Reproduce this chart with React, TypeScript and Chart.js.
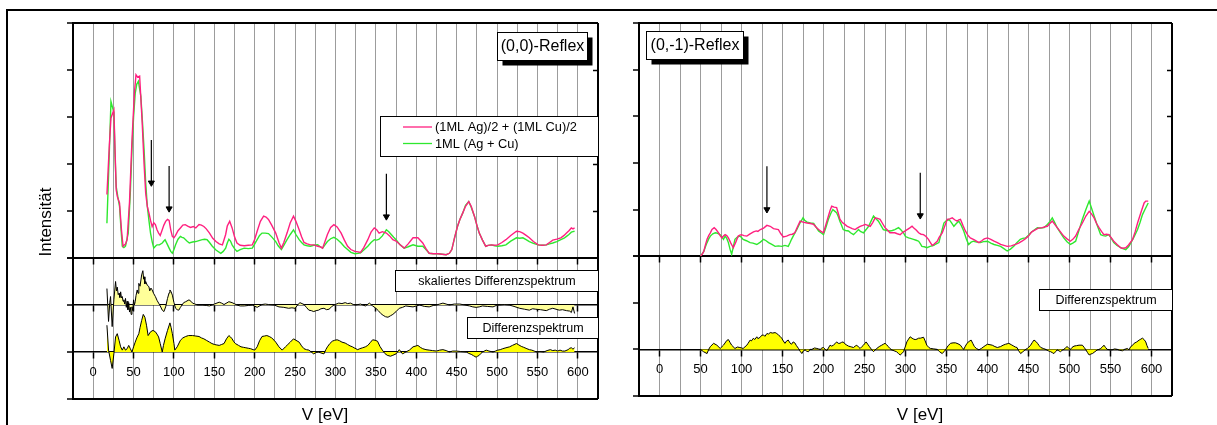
import React, { useEffect, useRef } from 'react';
import { Chart, registerables } from 'chart.js';

Chart.register(...registerables);

const FONT = "'Liberation Sans', Arial, Helvetica, sans-serif";
const PINK = '#ff1f7f';
const GREEN = '#2ee82e';
const PALE_YELLOW = '#ffff99';
const YELLOW = '#ffff00';
const GRID_GRAY = '#9c9c9c';

type Pt = [number, number];

// Energy axis (eV)
const X_MIN = -25;
const X_MAX = 625;
const X_LABEL_STEP = 50;
const X_GRID_STEP = 25;

// (0,0)-Reflex: [energy eV, intensity]
const sum00: Pt[] = [
  [17, 1.35], [20, 2.4], [22, 2.98], [25.6, 3.15], [28.5, 1.45], [30, 1.3], [32.6, 1.17], [35, 0.6], [37, 0.25],
  [40, 0.3], [42, 0.39], [45, 1.2], [48, 2.5], [51, 3.5], [53, 3.9], [55, 3.85], [57.5, 3.87], [59, 3.4],
  [60.7, 2.87], [63, 2.0], [65, 1.38], [67, 1.1], [69, 0.96], [71, 0.8], [73, 0.67], [75, 0.75], [77, 0.71],
  [79, 0.6], [81, 0.53], [83, 0.48], [85.5, 0.6], [87.5, 0.7], [89.7, 0.78], [92, 0.82], [94, 0.8], [96, 0.6],
  [98, 0.46], [100, 0.43], [102, 0.48], [105, 0.58], [108, 0.64], [111, 0.7], [114, 0.71], [117, 0.68],
  [120.5, 0.65], [124, 0.67], [127, 0.64], [131, 0.71], [134, 0.7], [137, 0.67], [140, 0.62], [144, 0.53],
  [148, 0.42], [152, 0.35], [156, 0.3], [160, 0.28], [164, 0.5], [166, 0.68], [169, 0.78], [172, 0.64],
  [175, 0.45], [178, 0.32], [182, 0.27], [187, 0.26], [192, 0.27], [197, 0.28], [200, 0.4], [203, 0.57],
  [207, 0.78], [211, 0.89], [214, 0.87], [217, 0.82], [221, 0.7], [226, 0.53], [230, 0.33], [233, 0.21],
  [236, 0.33], [240, 0.53], [244, 0.75], [248, 0.89], [251, 0.78], [255, 0.6], [258, 0.45], [261, 0.33],
  [265, 0.3], [269, 0.28], [273, 0.28], [278, 0.25], [281, 0.24], [284, 0.21], [287, 0.35], [290, 0.5],
  [294, 0.65], [298, 0.71], [302, 0.66], [307, 0.53], [311, 0.38], [315, 0.25], [319, 0.18], [324, 0.14],
  [328, 0.13], [331, 0.12], [335, 0.22], [340, 0.39], [344, 0.55], [348, 0.64], [351, 0.6], [354, 0.53],
  [358, 0.56], [363, 0.53], [367, 0.47], [371, 0.39], [375, 0.36], [380, 0.28], [385, 0.21], [390, 0.3],
  [396, 0.43], [402, 0.43], [408, 0.32], [412, 0.2], [416, 0.1], [421, 0.09], [427, 0.09], [432, 0.08],
  [437, 0.07], [441, 0.1], [444, 0.18], [447, 0.4], [451, 0.67], [454, 0.82], [457.6, 0.96], [461, 1.1],
  [465, 1.2], [468, 1.1], [472, 0.89], [475, 0.7], [478, 0.53], [482, 0.38], [486, 0.25], [489, 0.27],
  [493, 0.28], [497, 0.27], [501, 0.28], [506, 0.33], [511, 0.39], [517, 0.48], [524, 0.57], [528, 0.56],
  [532, 0.53], [536, 0.48], [540, 0.43], [545, 0.35], [551, 0.28], [556, 0.27], [561, 0.28], [565, 0.33],
  [569, 0.38], [574, 0.4], [579, 0.43], [583, 0.48], [586, 0.53], [589, 0.58], [592, 0.64], [594, 0.62], [596, 0.64],
];

const mixed00: Pt[] = [
  [17, 0.74], [19.5, 2.0], [22, 3.33], [24, 3.2], [25.6, 3.1], [27, 2.2], [28.5, 1.52], [30.5, 1.3],
  [32.6, 1.1], [34.5, 0.6], [36, 0.25], [38, 0.22], [40, 0.25], [43.4, 0.53], [46, 1.4], [48, 2.3], [50, 3.0],
  [52, 3.5], [54, 3.7], [56, 3.76], [59, 3.44], [61, 2.9], [63, 2.3], [65, 1.6], [67, 1.1], [69, 0.8], [71, 0.53],
  [73, 0.35], [75, 0.21], [77, 0.25], [79, 0.28], [82, 0.28], [85.5, 0.32], [87.5, 0.36], [89, 0.39],
  [91.5, 0.3], [94, 0.21], [96, 0.14], [98, 0.1], [100, 0.18], [102, 0.28], [105, 0.4], [108, 0.46],
  [110, 0.44], [112, 0.43], [116, 0.36], [119, 0.32], [123, 0.34], [127, 0.35], [131, 0.37], [135, 0.39],
  [138, 0.4], [141, 0.39], [144, 0.33], [147.5, 0.25], [152, 0.17], [158, 0.1], [161, 0.14], [164, 0.21],
  [166, 0.32], [168, 0.4], [170, 0.36], [172, 0.28], [175, 0.2], [178, 0.14], [182, 0.18], [187, 0.21],
  [192, 0.2], [197, 0.21], [200, 0.3], [203, 0.39], [206, 0.48], [209, 0.53], [213, 0.53], [217, 0.52],
  [221, 0.45], [226, 0.35], [229, 0.26], [233, 0.18], [236, 0.27], [240, 0.39], [244, 0.5], [248, 0.6],
  [251, 0.5], [255, 0.39], [258, 0.33], [261, 0.28], [265, 0.26], [269, 0.25], [273, 0.27], [278, 0.28],
  [281, 0.24], [284, 0.21], [287, 0.28], [290, 0.35], [294, 0.41], [298, 0.44], [302, 0.4], [307, 0.32],
  [311, 0.24], [315, 0.18], [319, 0.12], [324, 0.09], [328, 0.1], [331, 0.11], [335, 0.17], [340, 0.25],
  [344, 0.33], [348, 0.39], [351, 0.38], [354, 0.4], [358, 0.47], [363, 0.6], [366, 0.56], [369, 0.5],
  [372, 0.44], [375, 0.39], [380, 0.28], [385, 0.21], [390, 0.24], [396, 0.28], [402, 0.25], [408, 0.25],
  [412, 0.18], [416, 0.1], [421, 0.09], [427, 0.09], [432, 0.08], [437, 0.07], [441, 0.1], [444, 0.18],
  [447, 0.4], [451, 0.67], [454, 0.82], [457.6, 0.96], [461, 1.12], [465, 1.2], [468, 1.08], [472, 0.89],
  [475, 0.7], [478, 0.53], [482, 0.38], [486, 0.25], [489, 0.27], [493, 0.28], [497, 0.26], [501, 0.25],
  [506, 0.26], [511, 0.28], [517, 0.36], [524, 0.43], [528, 0.42], [532, 0.43], [536, 0.39], [540, 0.35],
  [545, 0.31], [551, 0.28], [556, 0.27], [561, 0.28], [565, 0.3], [569, 0.32], [574, 0.35], [579, 0.39],
  [583, 0.42], [586, 0.46], [589, 0.5], [592, 0.55], [594, 0.56], [596, 0.57],
];

const scaledDiff00: Pt[] = [
  [17, 0.35], [19, -0.35], [20.5, 0.05], [21.5, 0.18], [23.5, -0.46], [25.6, 0.11], [27.7, 0.5], [28.8, 0.3],
  [29.8, 0.38], [31, 0.22], [32, 0.25], [33, 0.16], [34, 0.28], [35, 0.15], [36, 0.18], [37, 0.08], [38, 0.11],
  [39, 0.02], [40, 0.14], [41, -0.05], [42, 0.08], [43, -0.1], [44, 0.05], [45, -0.15], [46, -0.05],
  [47, -0.2], [48, -0.04], [49, -0.12], [50, 0.11], [51, 0.0], [52, 0.07], [53, 0.2], [54.5, 0.32],
  [55.5, 0.25], [56.5, 0.46], [58, 0.4], [60, 0.64], [61.5, 0.73], [62.5, 0.55], [63, 0.6], [64, 0.45],
  [65, 0.5], [67, 0.42], [69, 0.39], [70, 0.3], [71.5, 0.36], [73, 0.32], [75, 0.24], [77, 0.18],
  [79, 0.1], [81, 0.04], [83, -0.02], [85.5, -0.11], [87.6, -0.14], [89.7, -0.04], [92, 0.14], [94, 0.26],
  [95, 0.32], [96.5, 0.28], [98, 0.21], [100, 0.05], [102, -0.07], [104, -0.1], [106, -0.11], [108, -0.05],
  [110, 0.0], [112, 0.05], [114.5, 0.07], [118.6, 0.11], [121, 0.08], [123, 0.04], [126, 0.02], [129, 0.0],
  [135, 0.0], [140, -0.01], [144, -0.02], [150, 0.02], [156, 0.06], [159, 0.04], [162, 0.01], [168, 0.07],
  [172, 0.05], [178, 0.0], [182, -0.02], [187, -0.02], [192, -0.01], [197, 0.0], [203, -0.05], [209, 0.01],
  [213, 0.02], [217, 0.01], [224, 0.0], [230, -0.04], [236, -0.05], [242, -0.07], [246, -0.06], [250, -0.07],
  [253, 0.0], [256, 0.05], [261, 0.01], [264, -0.05], [267, -0.11], [270, -0.12], [273, -0.14], [276, -0.12],
  [279, -0.11], [282, -0.08], [285.7, -0.07], [289, -0.1], [292, -0.09], [295, -0.04], [298, 0.0],
  [304, 0.04], [308, 0.03], [312, 0.05], [315, 0.03], [318.6, 0.04], [322, 0.01], [325, 0.0], [331, 0.02],
  [337, -0.02], [342, 0.04], [346, -0.02], [350, -0.07], [353, -0.12], [356, -0.18], [359, -0.22],
  [362, -0.25], [365, -0.26], [368, -0.23], [371, -0.2], [375, -0.14], [379, -0.07], [383, -0.05],
  [387, -0.02], [391, -0.03], [396, -0.04], [400, -0.02], [404, 0.0], [410, -0.03], [416, -0.04],
  [421, -0.01], [425, 0.0], [429, 0.02], [433, 0.04], [437, 0.02], [441, 0.0], [447, 0.02], [454, 0.02],
  [460, 0.0], [466, -0.02], [470, -0.04], [474, -0.05], [478, -0.04], [482, -0.02], [488, -0.03],
  [495, -0.04], [499, -0.01], [503, 0.0], [509, 0.01], [515, 0.0], [521, -0.03], [528, -0.07], [534, -0.09],
  [540, -0.11], [544, -0.08], [548, -0.09], [554, -0.1], [561, -0.12], [565, -0.09], [569, -0.07],
  [573, -0.09], [577, -0.11], [581, -0.1], [586, -0.12], [590, -0.13], [592, -0.16], [594, -0.04], [596, -0.18],
];

const diff00: Pt[] = [
  [17, 0.57], [19, 0.04], [21.5, -0.18], [23.5, -0.35], [25.6, -0.04], [27.7, 0.32], [29.8, 0.39],
  [32, 0.25], [34, 0.11], [36, 0.04], [38, 0.11], [40, 0.04], [42, 0.07], [44, 0.14], [46, 0.07], [48, 0.0],
  [50, 0.11], [52, 0.21], [54, 0.3], [56.5, 0.39], [58, 0.52], [60, 0.67], [62, 0.8], [64, 0.74], [66, 0.57],
  [68, 0.35], [71, 0.43], [74, 0.46], [77, 0.43], [79, 0.38], [81, 0.32], [83, 0.18], [85.5, 0.0], [87, 0.14],
  [89, 0.28], [92, 0.46], [95, 0.62], [96.5, 0.52], [98, 0.39], [100, 0.18], [101, 0.04], [104, 0.11],
  [108, 0.25], [111, 0.3], [114.5, 0.33], [118, 0.35], [123, 0.35], [127, 0.34], [131, 0.33], [134, 0.3],
  [137, 0.28], [140, 0.25], [144, 0.21], [147, 0.18], [150, 0.16], [153, 0.15], [156, 0.14], [159, 0.16],
  [162, 0.18], [165, 0.28], [168, 0.35], [170, 0.32], [172, 0.28], [174, 0.22], [176, 0.18], [180, 0.14],
  [183, 0.11], [186, 0.1], [189, 0.09], [192, 0.08], [195, 0.07], [198, 0.05], [200, 0.04], [203, 0.11],
  [206, 0.24], [209, 0.33], [212, 0.34], [215, 0.35], [218, 0.33], [221, 0.3], [224, 0.25], [226, 0.21],
  [230, 0.11], [234, 0.04], [238, 0.11], [241, 0.16], [244, 0.21], [248, 0.28], [251, 0.25], [255, 0.21],
  [258, 0.13], [261, 0.07], [264, 0.05], [267, 0.04], [270, 0.0], [273, -0.04], [276, -0.01], [279, 0.0],
  [282, -0.02], [285.7, -0.04], [288, 0.05], [290, 0.11], [293, 0.18], [296, 0.23], [299, 0.25], [302, 0.26],
  [305, 0.24], [308, 0.21], [312, 0.19], [315, 0.16], [318, 0.13], [321, 0.11], [324, 0.08], [327.5, 0.05],
  [330, 0.07], [333.6, 0.09], [337, 0.11], [340, 0.14], [343, 0.2], [346, 0.26], [349, 0.25], [352, 0.23],
  [355, 0.12], [358, 0.04], [361, -0.03], [364, -0.07], [368, -0.09], [371, -0.07], [375, -0.04],
  [379, 0.05], [383, -0.04], [387, 0.0], [391.5, 0.04], [396, 0.11], [402, 0.14], [405, 0.1], [408, 0.07],
  [412, 0.05], [416, 0.04], [420, 0.03], [425, 0.02], [429, 0.04], [433, 0.05], [437, 0.03], [441, 0.0],
  [445, 0.02], [449.6, 0.02], [455, 0.01], [462, 0.0], [465, -0.03], [468, -0.05], [471, -0.08],
  [474, -0.11], [476, -0.09], [478, -0.07], [480, -0.03], [482, 0.0], [486.6, 0.04], [490, 0.02], [495, 0.0],
  [498, 0.02], [501, 0.04], [504, 0.05], [507, 0.07], [511, 0.09], [515.5, 0.11], [519, 0.14], [524, 0.18],
  [527, 0.15], [530, 0.12], [533, 0.1], [537, 0.07], [540, 0.05], [543, 0.04], [546, 0.02], [549, 0.0],
  [553, 0.01], [557.8, 0.0], [562, 0.03], [566, 0.05], [569, 0.03], [572, 0.04], [575, 0.02], [578, 0.04],
  [581, 0.02], [584, 0.02], [588, 0.05], [590, 0.08], [592, 0.09], [594, 0.06], [596, 0.09],
];

// Arrow markers [energy eV, start, tip]
const arrows00: [number, number, number][] = [
  [72, 2.51, 1.6],
  [94, 1.96, 1.05],
  [363, 1.79, 0.88],
];

// (0,-1)-Reflex
const sum01: Pt[] = [
  [50, 0.0], [52, 0.04], [54, 0.1], [56, 0.24], [58, 0.36], [60, 0.44], [62, 0.5], [64, 0.57], [66.7, 0.61],
  [69, 0.57], [72, 0.5], [74, 0.44], [76, 0.39], [78, 0.43], [80, 0.46], [82, 0.44], [84, 0.39], [87, 0.28],
  [90, 0.18], [93, 0.3], [96, 0.43], [98, 0.45], [100, 0.46], [103, 0.44], [106.5, 0.43], [110, 0.47],
  [114.6, 0.52], [118, 0.54], [120, 0.53], [123, 0.57], [127, 0.6], [131, 0.66], [135, 0.64], [139, 0.59],
  [142, 0.58], [145, 0.57], [148, 0.48], [151, 0.41], [155, 0.43], [159, 0.46], [162, 0.47], [165, 0.5],
  [168, 0.62], [171.5, 0.75], [175, 0.73], [180, 0.71], [184, 0.7], [188, 0.68], [191, 0.62], [194, 0.57],
  [197, 0.53], [200, 0.5], [203, 0.68], [206, 0.86], [208, 0.98], [210, 1.07], [213, 1.05], [216, 1.04],
  [218, 0.92], [220, 0.79], [223, 0.72], [226, 0.68], [229, 0.64], [232.5, 0.61], [235, 0.59], [238.6, 0.57],
  [241, 0.6], [244.7, 0.64], [248, 0.66], [251, 0.68], [254, 0.66], [257, 0.64], [260, 0.72], [263, 0.82],
  [266, 0.81], [269, 0.79], [272, 0.7], [275, 0.61], [278, 0.56], [281, 0.5], [284, 0.5], [287, 0.5],
  [290, 0.48], [293.5, 0.46], [296, 0.5], [299.6, 0.54], [303, 0.58], [305.7, 0.61], [308, 0.64],
  [309.8, 0.61], [313, 0.56], [316, 0.5], [319, 0.47], [322, 0.46], [325, 0.42], [328, 0.36], [330, 0.3],
  [332.6, 0.23], [335, 0.26], [338.7, 0.32], [341, 0.4], [344.8, 0.5], [348, 0.65], [351, 0.79], [354, 0.8],
  [357, 0.82], [360, 0.78], [363, 0.75], [365, 0.78], [367, 0.79], [370, 0.66], [373, 0.54], [376, 0.45],
  [379, 0.39], [384, 0.35], [389.5, 0.29], [393, 0.33], [396, 0.37], [400, 0.39], [404, 0.36], [408, 0.32],
  [412, 0.29], [416, 0.25], [420, 0.23], [424, 0.21], [429, 0.22], [434, 0.25], [438, 0.28], [442, 0.32],
  [446, 0.37], [450, 0.43], [454, 0.52], [458.7, 0.57], [462, 0.6], [467, 0.61], [470, 0.63], [473, 0.64],
  [476, 0.7], [479, 0.75], [482, 0.68], [485, 0.61], [489, 0.52], [493, 0.43], [497, 0.37], [501, 0.32],
  [504, 0.36], [507.5, 0.43], [511, 0.56], [515.7, 0.71], [520, 0.86], [524, 0.96], [527, 0.9], [530, 0.82],
  [533, 0.7], [536, 0.61], [539, 0.53], [542, 0.46], [545, 0.47], [548, 0.46], [551, 0.39], [554, 0.32],
  [558, 0.25], [562.5, 0.18], [565, 0.17], [568.6, 0.18], [572, 0.24], [577, 0.36], [580, 0.52],
  [583, 0.71], [587, 0.93], [591, 1.14], [593, 1.18], [596, 1.18],
];

const mixed01: Pt[] = [
  [50, 0.0], [52, 0.05], [54, 0.1], [56, 0.2], [58, 0.29], [60, 0.37], [62, 0.43], [65, 0.48], [68, 0.5],
  [71, 0.49], [74, 0.46], [76, 0.42], [78, 0.36], [80, 0.43], [82, 0.38], [84, 0.29], [86, 0.15],
  [88, 0.04], [90, 0.2], [92, 0.36], [95, 0.41], [98, 0.43], [100, 0.4], [102, 0.36], [106, 0.33],
  [110.5, 0.29], [114, 0.28], [118.7, 0.25], [123, 0.3], [127, 0.36], [130, 0.33], [133, 0.29], [137, 0.25],
  [141, 0.21], [145, 0.22], [149, 0.21], [153, 0.23], [157, 0.21], [159, 0.28], [161, 0.36], [164, 0.46],
  [167.5, 0.57], [171, 0.7], [175, 0.82], [177, 0.77], [180, 0.73], [184, 0.71], [188, 0.7], [191, 0.62],
  [194, 0.54], [197, 0.5], [200, 0.46], [203, 0.62], [206, 0.79], [209, 0.92], [211.4, 1.0], [214, 0.96],
  [216, 0.93], [218, 0.85], [220, 0.75], [222, 0.66], [224, 0.57], [227, 0.55], [230.5, 0.54], [233, 0.5],
  [236.6, 0.46], [240, 0.52], [242.7, 0.57], [245, 0.53], [248.8, 0.5], [252, 0.57], [255, 0.64],
  [258, 0.75], [261, 0.86], [264, 0.8], [267, 0.75], [270, 0.66], [273, 0.57], [277, 0.55], [281, 0.54],
  [284, 0.55], [287, 0.57], [291.5, 0.61], [294, 0.57], [297.6, 0.5], [300, 0.42], [303.7, 0.39],
  [306, 0.38], [309.8, 0.36], [313, 0.34], [316, 0.32], [318, 0.27], [320, 0.21], [323, 0.2], [326, 0.18],
  [330, 0.21], [334.6, 0.23], [337, 0.26], [340.7, 0.29], [343, 0.45], [346.8, 0.71], [350, 0.76],
  [353, 0.79], [356, 0.72], [359, 0.64], [362, 0.7], [365, 0.75], [368, 0.66], [371, 0.54], [374, 0.38],
  [377, 0.25], [380, 0.3], [383, 0.32], [387, 0.3], [391.5, 0.29], [395, 0.31], [400, 0.32], [404, 0.28],
  [408, 0.25], [412, 0.23], [416, 0.21], [420, 0.16], [424, 0.11], [428, 0.15], [432, 0.21], [436, 0.29],
  [440, 0.36], [443, 0.38], [446.5, 0.39], [450, 0.45], [452.6, 0.5], [457, 0.56], [460.8, 0.61],
  [465, 0.6], [469, 0.61], [472, 0.66], [476, 0.74], [479, 0.82], [482, 0.72], [485, 0.61], [489, 0.5],
  [493, 0.39], [497, 0.31], [501, 0.25], [504, 0.28], [507.5, 0.32], [511, 0.52], [515.7, 0.79],
  [520, 1.0], [524, 1.18], [527, 1.02], [530, 0.86], [534, 0.65], [538, 0.46], [541, 0.44], [544, 0.43],
  [548, 0.46], [551, 0.38], [554, 0.29], [558, 0.23], [562.5, 0.18], [565, 0.16], [568.6, 0.14],
  [572, 0.2], [575, 0.29], [579, 0.42], [583, 0.57], [586, 0.72], [589, 0.89], [592, 1.0], [596, 1.14],
];

const diff01: Pt[] = [
  [50, 0.0], [53.7, -0.05], [58, -0.09], [60, 0.0], [62, 0.06], [66, 0.13], [70, 0.09], [74, 0.02],
  [78, 0.09], [82, 0.19], [84, 0.21], [86, 0.15], [88, 0.09], [92, 0.02], [95, 0.05], [98, 0.04],
  [102, 0.02], [106.5, 0.09], [108, 0.13], [110.6, 0.2], [112, 0.18], [114.6, 0.24], [116, 0.21],
  [118.7, 0.27], [120, 0.23], [122.8, 0.26], [124.5, 0.3], [126.8, 0.31], [128.5, 0.28], [131, 0.34],
  [133, 0.33], [135, 0.36], [138, 0.35], [141, 0.36], [143, 0.34], [145, 0.31], [147, 0.28], [149, 0.24],
  [151, 0.18], [153, 0.13], [155, 0.18], [157, 0.2], [159, 0.14], [161, 0.11], [163, 0.16], [165, 0.14],
  [167, 0.08], [169.5, 0.02], [171.5, -0.04], [173.6, -0.09], [175.5, -0.03], [177.6, -0.01],
  [179.5, -0.04], [181.7, -0.05], [183.5, 0.0], [185.8, 0.0], [189, 0.03], [191.9, 0.02], [194, 0.01],
  [196, 0.0], [198, 0.03], [200, 0.04], [202, 0.0], [204, -0.03], [206, 0.03], [208, 0.09], [210, 0.07],
  [212, 0.09], [214, 0.12], [216, 0.16], [218, 0.13], [220, 0.13], [222, 0.15], [224, 0.16], [226, 0.12],
  [228.5, 0.09], [230.5, 0.07], [232.5, 0.06], [234.5, 0.05], [236.6, 0.04], [238.6, 0.07], [240.6, 0.09],
  [242.7, 0.05], [244.7, 0.02], [246.8, 0.06], [248.8, 0.09], [250.5, 0.13], [252, 0.16], [254, 0.11],
  [256, 0.06], [258.5, 0.0], [261, -0.05], [263, -0.01], [265, 0.02], [268, 0.06], [271, 0.09],
  [273, 0.11], [275, 0.13], [277, 0.1], [279, 0.06], [281, 0.02], [283, -0.01], [286, -0.03],
  [289, -0.05], [291.5, -0.09], [293.5, -0.12], [295.5, -0.09], [297.6, -0.05], [299.6, 0.05],
  [301.6, 0.16], [303.7, 0.22], [305.7, 0.27], [308, 0.24], [310, 0.22], [311.8, 0.21], [314, 0.22],
  [316, 0.24], [318, 0.24], [320, 0.25], [322, 0.26], [324, 0.18], [326, 0.09], [328.5, 0.04],
  [330.5, 0.02], [334.6, 0.01], [338.7, 0.0], [341.5, -0.05], [344.8, -0.09], [346.8, -0.05],
  [348.8, -0.01], [352, 0.08], [355, 0.13], [358, 0.14], [361, 0.14], [364, 0.12], [367, 0.09],
  [369, 0.04], [371, 0.0], [373, 0.07], [375, 0.13], [377.5, 0.17], [380, 0.2], [382, 0.13],
  [384, 0.06], [386.5, 0.02], [389.5, -0.01], [392.5, 0.02], [395.6, 0.06], [398, 0.09], [400, 0.11],
  [403, 0.1], [405.8, 0.09], [409, 0.06], [412, 0.04], [414, 0.05], [416, 0.06], [419, 0.09], [422, 0.11],
  [424, 0.12], [426, 0.13], [429, 0.1], [432, 0.07], [434, 0.05], [436, 0.04], [438, -0.03],
  [440.4, -0.09], [442.5, -0.06], [444.5, -0.03], [446.5, 0.0], [448.6, 0.02], [450.5, 0.05],
  [452.6, 0.09], [454.7, 0.15], [456.7, 0.2], [459, 0.17], [461, 0.13], [463, 0.08], [465, 0.04],
  [468, 0.02], [471, 0.0], [474, -0.03], [477, -0.05], [479, -0.07], [481, -0.09], [483, -0.05],
  [485, -0.01], [487, -0.03], [489, -0.05], [491, -0.02], [493, 0.0], [495, 0.03], [497, 0.06],
  [499, 0.03], [501, 0.0], [503, 0.04], [505.5, 0.07], [508.5, 0.08], [511.6, 0.09], [515.7, 0.09],
  [518, 0.04], [520, -0.01], [522, -0.07], [524, -0.12], [526, -0.1], [528, -0.09], [531, -0.05],
  [534, -0.01], [536, 0.0], [538, 0.02], [540, 0.05], [542, 0.09], [544, 0.04], [546, 0.0], [549, -0.01],
  [552, -0.01], [555, 0.01], [558.4, 0.0], [561, -0.02], [564.6, -0.03], [567, 0.0], [570.7, 0.02],
  [572.5, -0.01], [574.7, 0.06], [576.5, 0.08], [578.8, 0.13], [582, 0.16], [585, 0.2], [587, 0.22],
  [589, 0.24], [591, 0.21], [593, 0.16], [594.5, 0.08], [596, 0.02],
];

const arrows01: [number, number, number][] = [
  [131, 1.93, 1.0],
  [318, 1.79, 0.87],
];

// Baselines of the two difference traces on the lower axis
const SCALED_BASE = 2;
const DIFF_BASE = 1;

const LABEL_SUM = '(1ML Ag)/2 + (1ML Cu)/2';
const LABEL_MIXED = '1ML (Ag + Cu)';

interface TextBox {
  text: string;
  x: number; // relative to chart area
  y: number;
  w: number;
  h: number;
  size: number;
  shadow?: boolean;
}

interface PanelSpec {
  width: number;
  height: number;
  padding: { left: number; top: number; right: number; bottom: number };
  labelPadding: number;
  sum: Pt[];
  mixed: Pt[];
  scaled?: Pt[];
  diff: Pt[];
  arrows: [number, number, number][];
  boxes: TextBox[];
  legend?: { x: number; y: number; w: number; h: number; row1: number; row2: number; lineX: number; lineW: number; textX: number; size: number };
  xTitle: { x: number; y: number };
  yTitle?: { x: number; y: number };
}

const toXY = (pts: Pt[], base = 0) => pts.map(([x, y]) => ({ x, y: y + base }));
const isMajor = (v: number) => v >= 0 && v <= 600 && v % X_LABEL_STEP === 0;
const CLEAR = 'rgba(0,0,0,0)';

function xAxis(yValue: number, main: boolean, labelPadding: number) {
  return {
    type: 'linear',
    min: X_MIN,
    max: X_MAX,
    position: { y: yValue },
    ticks: {
      stepSize: X_GRID_STEP,
      display: main,
      autoSkip: false,
      maxRotation: 0,
      padding: labelPadding,
      color: '#000',
      font: { family: FONT, size: 13 },
      callback: (v: number | string) => (isMajor(Number(v)) ? String(v) : ''),
    },
    grid: {
      drawOnChartArea: main,
      color: (c: any) => (c.tick.value === X_MAX ? '#000' : c.tick.value === X_MIN ? CLEAR : GRID_GRAY),
      lineWidth: (c: any) => (c.tick.value === X_MAX ? 2 : 1),
      tickLength: 6,
      tickWidth: 1.5,
      tickColor: (c: any) => (isMajor(c.tick.value) ? '#000' : CLEAR),
    },
    border: { display: true, color: '#000', width: 1.5 },
  };
}

function buildConfig(p: PanelSpec): any {
  const datasets: any[] = [
    { label: LABEL_SUM, data: toXY(p.sum), yAxisID: 'yu', borderColor: PINK, borderWidth: 1.4, pointRadius: 0, fill: false },
    { label: LABEL_MIXED, data: toXY(p.mixed), yAxisID: 'yu', borderColor: GREEN, borderWidth: 1.4, pointRadius: 0, fill: false },
  ];
  if (p.scaled) {
    datasets.push({
      label: 'skaliertes Differenzspektrum',
      data: toXY(p.scaled, SCALED_BASE),
      yAxisID: 'y',
      borderColor: '#000',
      borderWidth: 1,
      backgroundColor: PALE_YELLOW,
      fill: { value: SCALED_BASE },
      pointRadius: 0,
    });
  }
  datasets.push({
    label: 'Differenzspektrum',
    data: toXY(p.diff, DIFF_BASE),
    yAxisID: 'y',
    borderColor: '#000',
    borderWidth: 1,
    backgroundColor: YELLOW,
    fill: { value: DIFF_BASE },
    pointRadius: 0,
  });
  p.arrows.forEach(([x, y0, y1]) => {
    datasets.push({
      label: 'Pfeil',
      data: [{ x, y: y0 }, { x, y: y1 }],
      yAxisID: 'yu',
      borderColor: '#000',
      borderWidth: 1.2,
      pointRadius: [0, 3.5],
      pointStyle: 'triangle',
      pointRotation: 180,
      pointBackgroundColor: '#000',
      pointBorderColor: '#000',
      pointBorderWidth: 1,
      fill: false,
    });
  });

  const lowerLines = [0, 3];
  const scales: any = {
    x: xAxis(DIFF_BASE, true, p.labelPadding),
    xTop: xAxis(3, false, p.labelPadding),
  };
  if (p.scaled) scales.xMid = xAxis(SCALED_BASE, false, p.labelPadding);
  scales.y = {
    type: 'linear',
    position: 'left',
    stack: 'panel',
    stackWeight: 3,
    min: 0,
    max: 3,
    ticks: { stepSize: 1, display: false },
    grid: {
      color: (c: any) => (lowerLines.includes(c.tick.value) ? '#000' : CLEAR),
      lineWidth: 2,
      tickLength: 6,
      tickWidth: 1.5,
      tickColor: '#000',
    },
    border: { display: true, color: '#000', width: 2 },
  };
  scales.yu = {
    type: 'linear',
    position: 'left',
    stack: 'panel',
    stackWeight: 5,
    min: 0,
    max: 5,
    ticks: { stepSize: 1, display: false },
    grid: {
      color: (c: any) => (c.tick.value === 5 || c.tick.value === 0 ? '#000' : CLEAR),
      lineWidth: 2,
      tickLength: 6,
      tickWidth: 1.5,
      tickColor: '#000',
    },
    border: { display: true, color: '#000', width: 2 },
  };

  const decor = {
    id: 'panelDecor',
    afterDraw(chart: any) {
      const { ctx, chartArea: ca } = chart;
      ctx.save();
      // inward ticks on the right edge of the intensity axis
      const yu = chart.scales.yu;
      ctx.strokeStyle = '#000';
      ctx.lineWidth = 1.5;
      for (let v = 1; v < 5; v++) {
        const py = Math.round(yu.getPixelForValue(v)) + 0.5;
        ctx.beginPath();
        ctx.moveTo(ca.right - 5, py);
        ctx.lineTo(ca.right, py);
        ctx.stroke();
      }
      // framed labels
      p.boxes.forEach((b) => {
        const bx = Math.round(ca.left + b.x) + 0.5;
        const by = Math.round(ca.top + b.y) + 0.5;
        if (b.shadow) {
          ctx.fillStyle = '#000';
          ctx.fillRect(bx + 5, by + 5, b.w, b.h);
        }
        ctx.fillStyle = '#fff';
        ctx.fillRect(bx, by, b.w, b.h);
        ctx.strokeStyle = '#000';
        ctx.lineWidth = 1;
        ctx.strokeRect(bx, by, b.w, b.h);
        ctx.fillStyle = '#000';
        ctx.font = `${b.size}px ${FONT}`;
        ctx.textAlign = 'center';
        ctx.textBaseline = 'middle';
        ctx.fillText(b.text, bx + b.w / 2, by + b.h / 2 + 0.5);
      });
      // legend
      if (p.legend) {
        const L = p.legend;
        const lx = Math.round(ca.left + L.x) + 0.5;
        const ly = Math.round(ca.top + L.y) + 0.5;
        ctx.fillStyle = '#fff';
        ctx.fillRect(lx, ly, L.w, L.h);
        ctx.strokeStyle = '#000';
        ctx.lineWidth = 1;
        ctx.strokeRect(lx, ly, L.w, L.h);
        const rows = [L.row1, L.row2];
        [0, 1].forEach((i) => {
          const ds = chart.data.datasets[i];
          const ry = ca.top + rows[i];
          ctx.strokeStyle = ds.borderColor;
          ctx.lineWidth = 1.3;
          ctx.beginPath();
          ctx.moveTo(ca.left + L.lineX, ry);
          ctx.lineTo(ca.left + L.lineX + L.lineW, ry);
          ctx.stroke();
          ctx.fillStyle = '#000';
          ctx.font = `${L.size}px ${FONT}`;
          ctx.textAlign = 'left';
          ctx.textBaseline = 'middle';
          ctx.fillText(ds.label, ca.left + L.textX, ry + 0.5);
        });
      }
      // axis titles
      ctx.fillStyle = '#000';
      ctx.font = `17px ${FONT}`;
      ctx.textAlign = 'center';
      ctx.textBaseline = 'middle';
      ctx.fillText('V [eV]', p.xTitle.x, p.xTitle.y);
      if (p.yTitle) {
        ctx.translate(p.yTitle.x, p.yTitle.y);
        ctx.rotate(-Math.PI / 2);
        ctx.fillText('Intensität', 0, 0);
      }
      ctx.restore();
    },
  };

  return {
    type: 'line',
    data: { datasets },
    options: {
      animation: false,
      responsive: false,
      devicePixelRatio: 1,
      events: [],
      layout: { padding: p.padding },
      elements: { line: { tension: 0 } },
      plugins: { legend: { display: false }, tooltip: { enabled: false }, title: { display: false } },
      scales,
    },
    plugins: [decor],
  };
}

const leftPanel: PanelSpec = {
  width: 610,
  height: 425,
  padding: { left: 67, top: 23, right: 12, bottom: 26 },
  labelPadding: 7,
  sum: sum00,
  mixed: mixed00,
  scaled: scaledDiff00,
  diff: diff00,
  arrows: arrows00,
  boxes: [
    { text: '(0,0)-Reflex', x: 424, y: 9, w: 90, h: 28, size: 16, shadow: true },
    { text: 'skaliertes Differenzspektrum', x: 322, y: 247, w: 203, h: 21, size: 12.5 },
    { text: 'Differenzspektrum', x: 394, y: 294, w: 131, h: 21, size: 12.5 },
  ],
  legend: { x: 307, y: 93, w: 218, h: 40, row1: 104, row2: 120.5, lineX: 330, lineW: 29, textX: 362, size: 12.8 },
  xTitle: { x: 325, y: 415 },
  yTitle: { x: 46.5, y: 222 },
};

const rightPanel: PanelSpec = {
  width: 607,
  height: 425,
  padding: { left: 23, top: 23, right: 45, bottom: 29 },
  labelPadding: 6,
  sum: sum01,
  mixed: mixed01,
  diff: diff01,
  arrows: arrows01,
  boxes: [
    { text: '(0,-1)-Reflex', x: 7, y: 8, w: 97, h: 28, size: 16, shadow: true },
    { text: 'Differenzspektrum', x: 400, y: 266, w: 133, h: 21, size: 12.5 },
  ],
  xTitle: { x: 310, y: 415 },
};

function Panel({ spec, left }: { spec: PanelSpec; left: number }) {
  const ref = useRef<HTMLCanvasElement>(null);
  useEffect(() => {
    if (!ref.current) return;
    const chart = new Chart(ref.current, buildConfig(spec));
    return () => chart.destroy();
  }, [spec]);
  return (
    <canvas
      ref={ref}
      width={spec.width}
      height={spec.height}
      style={{ position: 'absolute', left, top: 0, width: spec.width, height: spec.height }}
    />
  );
}

export default function App() {
  return (
    <div style={{ position: 'fixed', left: 0, top: 0, width: 1217, height: 425, background: '#fff', overflow: 'hidden' }}>
      <div
        style={{
          position: 'absolute',
          left: 5.5,
          top: 9,
          width: 1260,
          height: 460,
          borderLeft: '2.5px solid #000',
          borderTop: '2.5px solid #000',
        }}
      />
      <Panel spec={leftPanel} left={0} />
      <Panel spec={rightPanel} left={610} />
    </div>
  );
}
